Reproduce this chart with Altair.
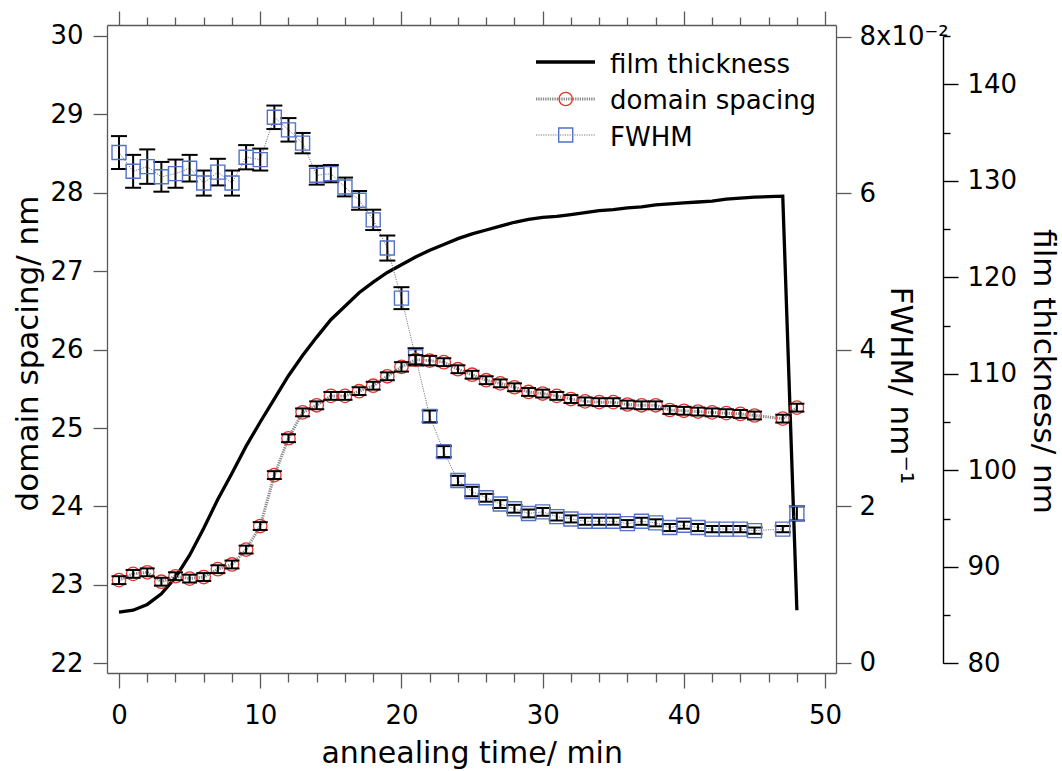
import altair as alt
import pandas as pd

# ---------------- data ----------------
time_ds = list(range(0, 46)) + [47, 48]
domain_spacing = [23.06, 23.14, 23.16, 23.04, 23.11, 23.08, 23.10, 23.20, 23.26, 23.45,
                  23.75, 24.40, 24.87, 25.20, 25.29, 25.41, 25.41, 25.47, 25.54, 25.66,
                  25.78, 25.87, 25.86, 25.84, 25.75, 25.68, 25.61, 25.57, 25.52, 25.46,
                  25.44, 25.41, 25.37, 25.34, 25.33, 25.33, 25.30, 25.29, 25.29, 25.23,
                  25.22, 25.21, 25.20, 25.19, 25.18, 25.16, 25.12, 25.26]
domain_err = [0.05, 0.05, 0.05, 0.05, 0.05, 0.05, 0.05, 0.05, 0.05, 0.05,
              0.05, 0.05, 0.05, 0.05, 0.05, 0.05, 0.05, 0.05, 0.05, 0.05,
              0.06, 0.06, 0.06, 0.05, 0.05, 0.05, 0.05, 0.05, 0.05, 0.05,
              0.05, 0.05, 0.05, 0.05, 0.05, 0.05, 0.05, 0.05, 0.05, 0.05,
              0.05, 0.05, 0.05, 0.05, 0.05, 0.05, 0.05, 0.05]

time_fw = list(range(0, 46)) + [47, 48]
fwhm = [6.52, 6.28, 6.34, 6.21, 6.25, 6.32, 6.13, 6.27, 6.13, 6.46,
        6.43, 6.97, 6.81, 6.64, 6.23, 6.25, 6.08, 5.91, 5.66, 5.30,
        4.66, 3.91, 3.15, 2.70, 2.33, 2.19, 2.11, 2.03, 1.97, 1.91,
        1.93, 1.87, 1.84, 1.81, 1.81, 1.81, 1.78, 1.81, 1.79, 1.73,
        1.76, 1.73, 1.71, 1.71, 1.71, 1.69, 1.71, 1.91]
fwhm_err = [0.21, 0.21, 0.22, 0.19, 0.18, 0.17, 0.16, 0.17, 0.16, 0.155,
            0.14, 0.15, 0.15, 0.13, 0.12, 0.11, 0.12, 0.12, 0.13, 0.16,
            0.14, 0.11, 0.075, 0.07, 0.06, 0.06, 0.05, 0.05, 0.05, 0.05,
            0.05, 0.05, 0.045, 0.045, 0.045, 0.045, 0.045, 0.045, 0.045, 0.045,
            0.045, 0.045, 0.04, 0.04, 0.04, 0.04, 0.04, 0.09]

time_ft = list(range(0, 49))
film_thickness = [85.3, 85.5, 86.1, 87.2, 88.9, 91.2, 94.0, 97.0, 99.7, 102.5,
                  105.0, 107.4, 109.8, 111.9, 113.8, 115.6, 117.0, 118.4, 119.5, 120.5,
                  121.3, 122.1, 122.8, 123.4, 124.0, 124.5, 124.9, 125.3, 125.7, 126.0,
                  126.2, 126.3, 126.5, 126.7, 126.9, 127.0, 127.2, 127.3, 127.5, 127.6,
                  127.7, 127.8, 127.9, 128.1, 128.2, 128.3, 128.35, 128.4, 85.5]

x_ticks = list(range(0, 51, 2))
ds_ticks = list(range(22, 31))
fw_ticks = [0, 2, 4, 6, 8]
ft_ticks = list(range(80, 146, 5))
legend_labels = ["film thickness", "domain spacing", "FWHM"]

# ---------------- style ----------------
FONT = "DejaVu Sans"
FRAME = "#5a5a5a"
RED = "#e0352f"
BLUE = "#5272c8"

ds_df = pd.DataFrame({"t": time_ds, "ds": domain_spacing, "err": domain_err})
fw_df = pd.DataFrame({"t": time_fw, "fw": fwhm, "err": fwhm_err})
ft_df = pd.DataFrame({"t": time_ft, "ft": film_thickness})

X_SCALE = alt.Scale(domain=[-0.85, 50.77], nice=False, zero=False)
DS_SCALE = alt.Scale(domain=[21.876, 30.14], nice=False, zero=False)
FW_SCALE = alt.Scale(domain=[-0.128, 8.149], nice=False, zero=False)
FT_SCALE = alt.Scale(domain=[80, 145], range=[638.3, 11.0], nice=False, zero=False)


def tick_cond(test, big, small):
    return {"condition": {"test": test, "value": big}, "value": small}


common_axis = dict(grid=False, labelFont=FONT, titleFont=FONT, labelColor="black",
                   titleColor="black", titleFontWeight="normal", labelFlush=False,
                   labelOverlap=False)

top_axis = alt.Axis(orient="top", values=x_ticks, labels=False, title="",
                    tickSize=tick_cond("datum.value % 10 === 0", 14, 8),
                    domainColor=FRAME, tickColor=FRAME, domainWidth=1.3, tickWidth=1.3,
                    **common_axis)
bottom_axis = alt.Axis(orient="bottom", values=x_ticks,
                       labelExpr="datum.value % 10 === 0 ? datum.label : ''",
                       tickSize=tick_cond("datum.value % 10 === 0", 15, 9),
                       labelFontSize=26, labelPadding=14,
                       domainColor=FRAME, tickColor=FRAME, domainWidth=1.3, tickWidth=1.3,
                       title="annealing time/ min", titleFontSize=30,
                       titleX=364.7, titleY=89, titleBaseline="alphabetic",
                       titleAlign="center", titleAngle=0,
                       **common_axis)
left_axis = alt.Axis(orient="left", values=ds_ticks, tickSize=14, labelPadding=10,
                     labelFontSize=26, domainColor=FRAME, tickColor=FRAME,
                     domainWidth=1.3, tickWidth=1.3,
                     title="domain spacing/ nm", titleFontSize=31,
                     titleX=-70, titleY=328, titleAngle=270, titleBaseline="alphabetic",
                     titleAlign="center", **common_axis)
right_axis = alt.Axis(orient="right", values=fw_ticks, tickSize=15, labelPadding=8,
                      labelFontSize=26, domainColor=FRAME, tickColor=FRAME,
                      domainWidth=1.3, tickWidth=1.3,
                      labelExpr="datum.value == 8 ? '8x10\u207b\u00b2' : datum.label",
                      title="FWHM/ nm\u207b\u00b9", titleFontSize=31,
                      titleX=54, titleY=360, titleAngle=90, titleBaseline="alphabetic",
                      titleAlign="center", **common_axis)
film_axis = alt.Axis(orient="right", offset=107, values=ft_ticks,
                     labelExpr="datum.value % 10 === 0 ? datum.label : ''",
                     tickSize=tick_cond("datum.value % 10 === 0", 15, 7),
                     labelPadding=9, labelFontSize=26, domainColor="black",
                     tickColor="black", domainWidth=1.4, tickWidth=1.4,
                     title="film thickness/ nm", titleFontSize=31,
                     titleX=90, titleY=346, titleAngle=90, titleBaseline="alphabetic",
                     titleAlign="center", **common_axis)

# ---------------- film thickness ----------------
ft_line = alt.Chart(ft_df).mark_line(color="black", strokeWidth=3.3).encode(
    x=alt.X("t:Q", scale=X_SCALE, axis=bottom_axis),
    y=alt.Y("ft:Q", scale=FT_SCALE, axis=film_axis),
)

# ---------------- FWHM ----------------
fw_base = alt.Chart(fw_df).transform_calculate(lo="datum.fw - datum.err",
                                               hi="datum.fw + datum.err")
fw_line = fw_base.mark_line(color="#7a7a7a", strokeWidth=1, strokeDash=[1.2, 1.2]).encode(
    x=alt.X("t:Q", scale=X_SCALE, axis=None),
    y=alt.Y("fw:Q", scale=FW_SCALE, axis=right_axis),
)
fw_pts = fw_base.mark_point(shape="square", size=196, color=BLUE, filled=False,
                            strokeWidth=1.4, opacity=1).encode(
    x=alt.X("t:Q", scale=X_SCALE, axis=None),
    y=alt.Y("fw:Q", scale=FW_SCALE, axis=None),
)
fw_rule = fw_base.mark_rule(color="black", strokeWidth=2).encode(
    x=alt.X("t:Q", scale=X_SCALE, axis=None),
    y=alt.Y("lo:Q", scale=FW_SCALE, axis=None),
    y2="hi:Q",
)
fw_cap_lo = fw_base.mark_tick(orient="horizontal", size=16, thickness=2, color="black",
                              opacity=1).encode(
    x=alt.X("t:Q", scale=X_SCALE, axis=None),
    y=alt.Y("lo:Q", scale=FW_SCALE, axis=None),
)
fw_cap_hi = fw_base.mark_tick(orient="horizontal", size=16, thickness=2, color="black",
                              opacity=1).encode(
    x=alt.X("t:Q", scale=X_SCALE, axis=None),
    y=alt.Y("hi:Q", scale=FW_SCALE, axis=None),
)

# ---------------- domain spacing ----------------
ds_base = alt.Chart(ds_df).transform_calculate(lo="datum.ds - datum.err",
                                               hi="datum.ds + datum.err")
ds_line = ds_base.mark_line(color="#8a8a8a", strokeWidth=3, strokeDash=[1.3, 1.0]).encode(
    x=alt.X("t:Q", scale=X_SCALE, axis=top_axis),
    y=alt.Y("ds:Q", scale=DS_SCALE, axis=left_axis),
)
ds_pts = ds_base.mark_point(shape="circle", size=180, color=RED, filled=False,
                            strokeWidth=1.3, opacity=1).encode(
    x=alt.X("t:Q", scale=X_SCALE, axis=None),
    y=alt.Y("ds:Q", scale=DS_SCALE, axis=None),
)
ds_rule = ds_base.mark_rule(color="black", strokeWidth=2).encode(
    x=alt.X("t:Q", scale=X_SCALE, axis=None),
    y=alt.Y("lo:Q", scale=DS_SCALE, axis=None),
    y2="hi:Q",
)
ds_cap_lo = ds_base.mark_tick(orient="horizontal", size=15, thickness=2, color="black",
                              opacity=1).encode(
    x=alt.X("t:Q", scale=X_SCALE, axis=None),
    y=alt.Y("lo:Q", scale=DS_SCALE, axis=None),
)
ds_cap_hi = ds_base.mark_tick(orient="horizontal", size=15, thickness=2, color="black",
                              opacity=1).encode(
    x=alt.X("t:Q", scale=X_SCALE, axis=None),
    y=alt.Y("hi:Q", scale=DS_SCALE, axis=None),
)

# ---------------- legend (drawn inside the plot, top right) ----------------
leg_df = pd.DataFrame({"label": legend_labels})
leg_text = []
for i, ypos in enumerate([48, 84, 120.7]):
    leg_text.append(
        alt.Chart(leg_df).transform_filter(f"datum.label == '{legend_labels[i]}'")
        .mark_text(align="left", baseline="alphabetic", fontSize=26, font=FONT, color="black")
        .encode(x=alt.value(503), y=alt.value(ypos), text="label:N")
    )
leg_film = alt.Chart(leg_df.head(1)).mark_rule(color="black", strokeWidth=3.3).encode(
    x=alt.value(429), x2=alt.value(488), y=alt.value(37))
leg_ds_line = alt.Chart(leg_df.head(1)).mark_rule(color="#8a8a8a", strokeWidth=3,
                                                  strokeDash=[1.3, 1.0]).encode(
    x=alt.value(429), x2=alt.value(488), y=alt.value(74))
leg_ds_pt = alt.Chart(leg_df.head(1)).mark_point(shape="circle", size=180, color=RED,
                                                 filled=False, strokeWidth=1.3,
                                                 opacity=1).encode(
    x=alt.value(458.7), y=alt.value(74))
leg_fw_line = alt.Chart(leg_df.head(1)).mark_rule(color="#7a7a7a", strokeWidth=1,
                                                  strokeDash=[1.2, 1.2]).encode(
    x=alt.value(429), x2=alt.value(488), y=alt.value(110))
leg_fw_pt = alt.Chart(leg_df.head(1)).mark_point(shape="square", size=196, color=BLUE,
                                                 filled=False, strokeWidth=1.4,
                                                 opacity=1).encode(
    x=alt.value(458.7), y=alt.value(110))

chart = alt.layer(
    ft_line,
    fw_line, fw_rule, fw_cap_lo, fw_cap_hi, fw_pts,
    ds_line, ds_pts, ds_rule, ds_cap_lo, ds_cap_hi,
    leg_film, leg_ds_line, leg_ds_pt, leg_fw_line, leg_fw_pt, *leg_text
).resolve_scale(
    y="independent"
).resolve_axis(
    x="independent", y="independent"
).properties(
    width=729, height=648,
    autosize=alt.AutoSizeParams(type="none"),
    padding={"left": 107, "top": 25, "right": 226, "bottom": 98},
    background="white",
).configure_view(stroke=None).configure(font=FONT)

chart.save("out.html", embed_options={"renderer": "svg", "actions": False})
